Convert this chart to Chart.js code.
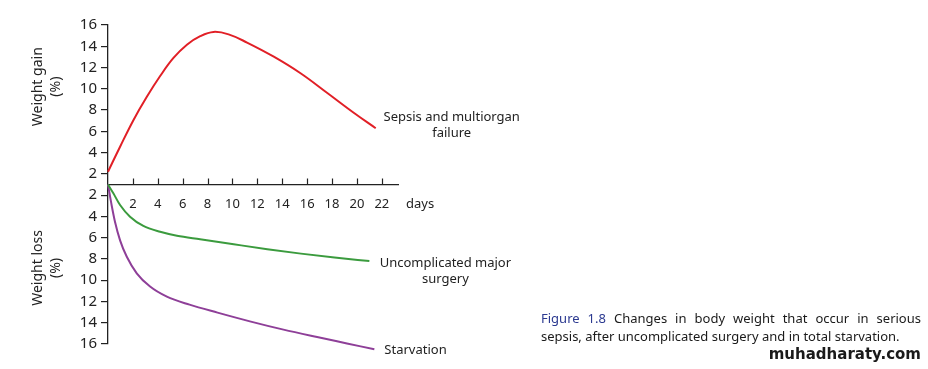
<!DOCTYPE html>
<html>
<head>
<meta charset="utf-8">
<script src="https://cdn.jsdelivr.net/npm/chart.js@4.4.1/dist/chart.umd.min.js"></script>
<style>
  html, body { margin: 0; padding: 0; background: #fff; }
  #wrap { position: relative; width: 928px; height: 369px; overflow: hidden; }
  #chart { position: absolute; left: 0; top: 0; }
  .caption {
    position: absolute; left: 541px; top: 309px; width: 380px;
    font-family: "Noto Sans", sans-serif; font-size: 13px; line-height: 18px; color: #1a1a1a;
  }
  .caption .l1 { text-align: justify; text-align-last: justify; }
  .caption .fig { color: #2b3990; }
  .mark {
    position: absolute; right: 7px; top: 345px;
    font-family: "DejaVu Sans", sans-serif; font-weight: bold; font-size: 15px; color: #1a1a1a;
  }
</style>
</head>
<body>
<div id="wrap">
  <canvas id="chart" width="928" height="369"></canvas>
  <div class="caption">
    <div class="l1"><span class="fig">Figure 1.8</span> Changes in body weight that occur in serious</div>
    <div>sepsis, after uncomplicated surgery and in total starvation.</div>
  </div>
  <div class="mark">muhadharaty.com</div>
</div>
<script>
// y is in axis steps: +1..+15 -> gain 2..16, -1..-15 -> loss 2..16
const sepsisDays = [0, 0.97, 2.04, 3.12, 4.19, 5.26, 6.34, 7.41, 8.48, 9.69, 11.17, 13.32, 15.47, 17.62, 19.77, 21.51];
const sepsisValues = [1.2, 3.55, 6.05, 8.25, 10.2, 11.9, 13.15, 13.95, 14.35, 14.12, 13.35, 12.02, 10.46, 8.6, 6.72, 5.29];

const surgeryDays = [0, 0.43, 0.97, 1.77, 2.84, 4.19, 5.54, 7.4, 10.1, 12.8, 15.5, 18.2, 21.0];
const surgeryValues = [0, -0.83, -1.93, -3.03, -3.9, -4.45, -4.82, -5.15, -5.62, -6.08, -6.5, -6.87, -7.2];

const starvationDays = [0, 0.3, 0.56, 0.97, 1.51, 2.31, 3.38, 4.73, 6.55, 8.8, 11.4, 14.1, 16.8, 19.2, 21.4];
const starvationValues = [0, -2.0, -3.5, -5.25, -6.8, -8.35, -9.6, -10.55, -11.3, -12.05, -12.87, -13.65, -14.35, -14.95, -15.5];

const xTickValues = [2, 4, 6, 8, 10, 12, 14, 16, 18, 20, 22];
const yTickValues = [15, 13, 11, 9, 7, 5, 3, 1, -1, -3, -5, -7, -9, -11, -13, -15];
const yTickLabels = ['16', '14', '12', '10', '8', '6', '4', '2', '2', '4', '6', '8', '10', '12', '14', '16'];

const sepsisLabel = ['Sepsis and multiorgan', 'failure'];
const surgeryLabel = ['Uncomplicated major', 'surgery'];
const starvationLabel = ['Starvation'];

const FONT = '"Noto Sans", sans-serif';
const INK = '#222';

function toPoints(days, values) {
  return days.map((d, i) => ({ x: d, y: values[i] }));
}

const decorPlugin = {
  id: 'decor',
  afterDraw(chart) {
    const ctx = chart.ctx;
    const xs = chart.scales.x;
    const ys = chart.scales.y;
    const y0 = ys.getPixelForValue(0);

    ctx.save();
    // x tick marks point upward from the axis
    ctx.strokeStyle = INK;
    ctx.lineWidth = 1.2;
    xTickValues.forEach(v => {
      const px = Math.round(xs.getPixelForValue(v)) + 0.5;
      ctx.beginPath();
      ctx.moveTo(px, y0);
      ctx.lineTo(px, y0 - 6);
      ctx.stroke();
    });

    ctx.fillStyle = INK;
    ctx.font = '13px ' + FONT;
    ctx.textBaseline = 'middle';
    ctx.textAlign = 'left';
    ctx.fillText('days', xs.right + 8, y0 + 20);

    // series labels at line ends
    const ends = chart.data.datasets.map((ds, i) => {
      const pts = chart.getDatasetMeta(i).data;
      return pts[pts.length - 1];
    });
    ctx.textAlign = 'center';
    sepsisLabel.forEach((t, k) => ctx.fillText(t, ends[0].x + 76, ends[0].y - 11 + k * 16));
    surgeryLabel.forEach((t, k) => ctx.fillText(t, ends[1].x + 76, ends[1].y + 2 + k * 16));
    ctx.textAlign = 'left';
    starvationLabel.forEach((t, k) => ctx.fillText(t, ends[2].x + 10, ends[2].y + 1 + k * 16));

    // axis titles, rotated
    const titles = [
      { lines: ['Weight gain', '(%)'], y: ys.getPixelForValue(9.2) },
      { lines: ['Weight loss', '(%)'], y: ys.getPixelForValue(-7.85) }
    ];
    ctx.font = '14px ' + FONT;
    ctx.textAlign = 'center';
    titles.forEach(t => {
      t.lines.forEach((line, k) => {
        ctx.save();
        ctx.translate(38 + k * 18, t.y);
        ctx.rotate(-Math.PI / 2);
        ctx.fillText(line, 0, 0);
        ctx.restore();
      });
    });
    ctx.restore();
  }
};

const lineStyle = { borderWidth: 2, pointRadius: 0, fill: false, clip: false };

new Chart(document.getElementById('chart'), {
  type: 'line',
  data: {
    datasets: [
      Object.assign({ label: 'Sepsis and multiorgan failure', data: toPoints(sepsisDays, sepsisValues), borderColor: '#e11f26', tension: 0.4 }, lineStyle),
      Object.assign({ label: 'Uncomplicated major surgery', data: toPoints(surgeryDays, surgeryValues), borderColor: '#3b9b3e', cubicInterpolationMode: 'monotone' }, lineStyle),
      Object.assign({ label: 'Starvation', data: toPoints(starvationDays, starvationValues), borderColor: '#8e3f98', cubicInterpolationMode: 'monotone' }, lineStyle)
    ]
  },
  options: {
    responsive: false,
    animation: false,
    layout: { padding: { left: 0, right: 530, top: 25, bottom: 25 } },
    scales: {
      x: {
        type: 'linear',
        min: 0,
        max: 23.3,
        position: { y: 0 },
        afterFit(scale) { scale.height = 0; },
        afterBuildTicks(scale) { scale.ticks = xTickValues.map(v => ({ value: v })); },
        grid: { display: false, drawTicks: false },
        border: { display: true, color: INK, width: 1.3 },
        ticks: {
          padding: 12,
          maxRotation: 0,
          color: INK,
          font: { family: FONT, size: 13 },
          callback: v => String(v)
        }
      },
      y: {
        type: 'linear',
        min: -15,
        max: 15,
        position: 'left',
        afterFit(scale) { scale.width = 108; },
        afterBuildTicks(scale) { scale.ticks = yTickValues.map(v => ({ value: v })); },
        grid: { display: true, drawOnChartArea: false, drawTicks: true, tickLength: 7, color: INK, lineWidth: 1.2 },
        border: { display: true, color: INK, width: 1.3 },
        ticks: {
          padding: 4,
          color: INK,
          font: { family: FONT, size: 15 },
          callback: v => yTickLabels[yTickValues.indexOf(v)]
        }
      }
    },
    plugins: {
      legend: { display: false },
      tooltip: { enabled: false }
    }
  },
  plugins: [decorPlugin]
});
</script>
</body>
</html>
